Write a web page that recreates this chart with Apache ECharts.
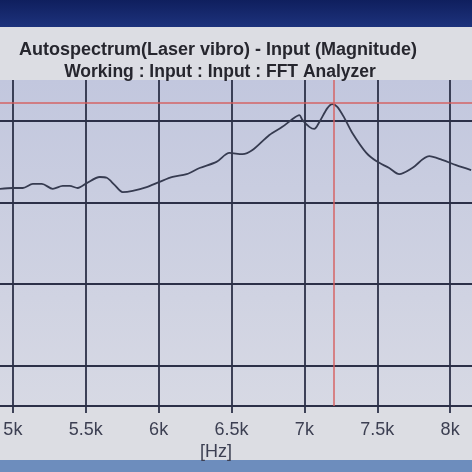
<!DOCTYPE html>
<html>
<head>
<meta charset="utf-8">
<script src="https://cdn.jsdelivr.net/npm/echarts@6/dist/echarts.min.js"></script>
<style>
  html, body { margin: 0; padding: 0; background: #dcdde3; }
  #chart { width: 472px; height: 472px; }
</style>
</head>
<body>
<div id="chart"></div>
<script>
// frequency [Hz] and magnitude (in grid units, grid lines at 1,3,5,7)
const freqs = [4911, 5000, 5068, 5137, 5199, 5274, 5342, 5390, 5445, 5507, 5596, 5644, 5699, 5753, 5822, 5918, 6007, 6096, 6192, 6281, 6397, 6486, 6575, 6644, 6760, 6849, 6911, 6966, 6986, 7034, 7068, 7103, 7158, 7192, 7226, 7274, 7329, 7425, 7493, 7582, 7651, 7740, 7856, 7945, 8041, 8144];
const magnitude = [5.33, 5.35, 5.35, 5.45, 5.45, 5.33, 5.40, 5.40, 5.35, 5.47, 5.62, 5.60, 5.42, 5.25, 5.28, 5.37, 5.50, 5.62, 5.69, 5.84, 5.99, 6.21, 6.18, 6.28, 6.65, 6.85, 7.02, 7.14, 7.02, 6.85, 6.80, 6.97, 7.31, 7.41, 7.34, 7.07, 6.70, 6.21, 6.01, 5.84, 5.69, 5.84, 6.13, 6.04, 5.91, 5.79];
const cursorFreq = 7200;
const cursorLevel = 7.44;

const gridColor = '#2c3048';

const chart = echarts.init(document.getElementById('chart'));
chart.setOption({
  animation: false,
  backgroundColor: '#dcdde3',
  title: [
    {
      text: 'Autospectrum(Laser vibro) - Input (Magnitude)',
      left: 213, top: 36, textAlign: 'center',
      textStyle: { fontFamily: 'Liberation Sans', fontSize: 18, fontWeight: 'bold', color: '#26262e' }
    },
    {
      text: 'Working : Input : Input : FFT Analyzer',
      left: 215, top: 58, textAlign: 'center',
      textStyle: { fontFamily: 'Liberation Sans', fontSize: 17.5, fontWeight: 'bold', color: '#26262e' }
    }
  ],
  graphic: [
    {
      type: 'rect', left: 0, top: 0, shape: { width: 472, height: 27 },
      style: { fill: new echarts.graphic.LinearGradient(0, 0, 0, 1, [
        { offset: 0, color: '#0f1f5e' }, { offset: 1, color: '#1d327c' }]) }
    },
    {
      type: 'rect', left: 0, top: 460, shape: { width: 472, height: 12 },
      style: { fill: '#6d8dbd' }
    },
    {
      type: 'text', left: 200, top: 443,
      style: { text: '[Hz]', fontFamily: 'Liberation Sans', fontSize: 18, fill: '#3c3f52' }
    }
  ],
  grid: {
    left: -60, right: -51, top: 80, bottom: 66,
    outerBoundsMode: 'none', containLabel: false,
    show: true, borderWidth: 0,
    backgroundColor: new echarts.graphic.LinearGradient(0, 0, 0, 1, [
      { offset: 0, color: '#c2c7de' }, { offset: 1, color: '#d7d9e4' }])
  },
  xAxis: {
    type: 'value', min: 4500, max: 8500, interval: 500,
    axisLine: { lineStyle: { color: gridColor, width: 1.8 } },
    axisTick: { length: 7, lineStyle: { color: gridColor, width: 1.8 } },
    axisLabel: {
      margin: 15, fontSize: 18, fontFamily: 'Liberation Sans', color: '#3c3f52',
      formatter: v => (v / 1000) + 'k'
    },
    splitLine: { show: true, lineStyle: { color: gridColor, width: 1.8 } }
  },
  yAxis: {
    type: 'value', min: 0, max: 8, interval: 1,
    axisLine: { show: false }, axisTick: { show: false }, axisLabel: { show: false },
    splitLine: { show: true, lineStyle: { color: ['rgba(0,0,0,0)', gridColor], width: 1.8 } }
  },
  series: [{
    type: 'line',
    data: freqs.map((f, i) => [f, magnitude[i]]),
    showSymbol: false,
    smooth: 0.3,
    lineStyle: { color: '#363b50', width: 1.8 },
    markLine: {
      silent: true, symbol: 'none', label: { show: false },
      lineStyle: { color: 'rgba(214,92,92,0.7)', width: 2, type: 'solid' },
      data: [{ xAxis: cursorFreq }, { yAxis: cursorLevel }]
    }
  }]
});
</script>
</body>
</html>
